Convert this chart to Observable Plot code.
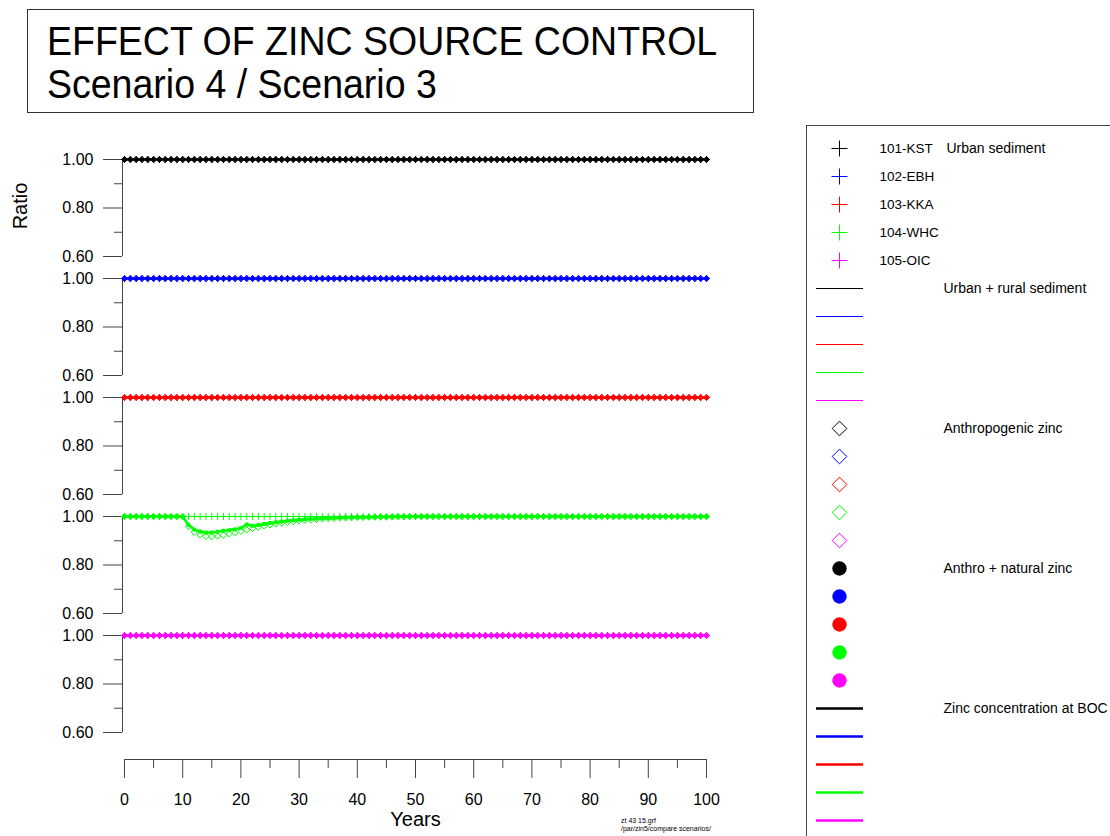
<!DOCTYPE html>
<html>
<head>
<meta charset="utf-8">
<script src="https://cdn.jsdelivr.net/npm/d3@7"></script>
<script src="https://cdn.jsdelivr.net/npm/@observablehq/plot@0.6"></script>
<style>
  html, body { margin: 0; padding: 0; background: #fff; }
  body { font-family: "Liberation Sans", Arial, Helvetica, sans-serif; color: #000; }
  #page { position: relative; width: 1110px; height: 836px; overflow: hidden; background: #fff; }
  .abs { position: absolute; }
  #titlebox { left: 27px; top: 9px; width: 725px; height: 102px; border: 1px solid #333; }
  .tline { position: absolute; left: 47px; font-size: 37.5px; line-height: 37.5px; white-space: nowrap; transform: scaleY(1.08); transform-origin: 0 31.7px; }
  #ratio { left: 20px; top: 206px; font-size: 20px; line-height: 20px; transform: translate(-50%, -50%) rotate(-90deg); white-space: nowrap; }
  #legendbox { left: 806px; top: 125px; width: 320px; height: 730px; border-left: 1px solid #444; border-top: 1px solid #444; }
  .foot { position: absolute; left: 621px; font-size: 7px; line-height: 8px; white-space: nowrap; }
</style>
</head>
<body>
<div id="page">
  <div id="titlebox" class="abs"></div>
  <div class="tline" style="top:24px">EFFECT OF ZINC SOURCE CONTROL</div>
  <div class="tline" style="top:67px">Scenario 4 / Scenario 3</div>
  <div id="ratio" class="abs">Ratio</div>
  <div id="main" class="abs" style="left:0;top:0"></div>
  <div id="xaxis" class="abs" style="left:0;top:749px"></div>
  <div id="legendbox" class="abs"><div id="legend"></div></div>
  <div class="foot" style="top:817px">zt 43 15.grf</div>
  <div class="foot" style="top:825px">/par/zin5/compare scenarios/</div>
</div>
<script>
// ---------------- DATA ----------------
const sites = ["101-KST", "102-EBH", "103-KKA", "104-WHC", "105-OIC"];
const siteColors = ["#000000", "#0000ff", "#ff0000", "#00ff00", "#ff00ff"];
const kinds = ["urbanSediment", "urbanRural", "anthro", "anthroNatural", "boc"];
const kindLabels = ["Urban sediment", "Urban + rural sediment", "Anthropogenic zinc", "Anthro + natural zinc", "Zinc concentration at BOC"];

const years = [
  0, 1, 2, 3, 4, 5, 6, 7, 8, 9,
  10, 11, 12, 13, 14, 15, 16, 17, 18, 19,
  20, 21, 22, 23, 24, 25, 26, 27, 28, 29,
  30, 31, 32, 33, 34, 35, 36, 37, 38, 39,
  40, 41, 42, 43, 44, 45, 46, 47, 48, 49,
  50, 51, 52, 53, 54, 55, 56, 57, 58, 59,
  60, 61, 62, 63, 64, 65, 66, 67, 68, 69,
  70, 71, 72, 73, 74, 75, 76, 77, 78, 79,
  80, 81, 82, 83, 84, 85, 86, 87, 88, 89,
  90, 91, 92, 93, 94, 95, 96, 97, 98, 99,
  100
];

// Ratio stays at 1.00 throughout for these series
const ratioFlat = [
  1, 1, 1, 1, 1, 1, 1, 1, 1, 1,
  1, 1, 1, 1, 1, 1, 1, 1, 1, 1,
  1, 1, 1, 1, 1, 1, 1, 1, 1, 1,
  1, 1, 1, 1, 1, 1, 1, 1, 1, 1,
  1, 1, 1, 1, 1, 1, 1, 1, 1, 1,
  1, 1, 1, 1, 1, 1, 1, 1, 1, 1,
  1, 1, 1, 1, 1, 1, 1, 1, 1, 1,
  1, 1, 1, 1, 1, 1, 1, 1, 1, 1,
  1, 1, 1, 1, 1, 1, 1, 1, 1, 1,
  1, 1, 1, 1, 1, 1, 1, 1, 1, 1,
  1
];

// 104-WHC anthropogenic zinc (open diamonds)
const whcAnthro = [
  1, 1, 1, 1, 1, 1, 1, 1, 1, 1,
  1, 0.958, 0.935, 0.924, 0.918, 0.917, 0.919, 0.923, 0.928, 0.933,
  0.939, 0.945, 0.951, 0.956, 0.961, 0.965, 0.969, 0.973, 0.976, 0.979,
  0.982, 0.984, 0.986, 0.988, 0.990, 0.991, 0.992, 0.993, 0.994, 0.995,
  0.996, 0.996, 0.997, 0.997, 0.998, 0.998, 0.998, 0.999, 0.999, 0.999,
  1, 1, 1, 1, 1, 1, 1, 1, 1, 1,
  1, 1, 1, 1, 1, 1, 1, 1, 1, 1,
  1, 1, 1, 1, 1, 1, 1, 1, 1, 1,
  1, 1, 1, 1, 1, 1, 1, 1, 1, 1,
  1, 1, 1, 1, 1, 1, 1, 1, 1, 1,
  1
];

// 104-WHC anthro + natural zinc (filled dots)
const whcAnthroNatural = [
  1, 1, 1, 1, 1, 1, 1, 1, 1, 1,
  1, 0.965, 0.946, 0.938, 0.934, 0.934, 0.937, 0.941, 0.944, 0.947,
  0.953, 0.967, 0.962, 0.965, 0.969, 0.973, 0.976, 0.979, 0.982, 0.985,
  0.987, 0.989, 0.991, 0.992, 0.993, 0.994, 0.995, 0.996, 0.997, 0.997,
  0.998, 0.998, 0.998, 0.999, 0.999, 0.999, 1, 1, 1, 1,
  1, 1, 1, 1, 1, 1, 1, 1, 1, 1,
  1, 1, 1, 1, 1, 1, 1, 1, 1, 1,
  1, 1, 1, 1, 1, 1, 1, 1, 1, 1,
  1, 1, 1, 1, 1, 1, 1, 1, 1, 1,
  1, 1, 1, 1, 1, 1, 1, 1, 1, 1,
  1
];

// 104-WHC urban + rural sediment (thin line) and concentration at BOC (thick line)
const whcUrbanRural = whcAnthroNatural;
const whcBOC = whcAnthroNatural;

const seriesFor = {
  "101-KST": [ratioFlat, ratioFlat, ratioFlat, ratioFlat, ratioFlat],
  "102-EBH": [ratioFlat, ratioFlat, ratioFlat, ratioFlat, ratioFlat],
  "103-KKA": [ratioFlat, ratioFlat, ratioFlat, ratioFlat, ratioFlat],
  "104-WHC": [ratioFlat, whcUrbanRural, whcAnthro, whcAnthroNatural, whcBOC],
  "105-OIC": [ratioFlat, ratioFlat, ratioFlat, ratioFlat, ratioFlat]
};

const xTicks = [0, 10, 20, 30, 40, 50, 60, 70, 80, 90, 100];
const xMinorTicks = [5, 15, 25, 35, 45, 55, 65, 75, 85, 95];
const yTicks = [0.6, 0.8, 1.0];
const yMinorTicks = [0.7, 0.9];

// ---------------- BUILD ----------------
const rows = [];
for (const s of sites) {
  seriesFor[s].forEach((arr, ki) => {
    years.forEach((yr, i) => rows.push({site: s, kind: kinds[ki], year: yr, value: arr[i]}));
  });
}
const byKind = k => rows.filter(d => d.kind === k);

const FONT = '"Liberation Sans", Arial, Helvetica, sans-serif';
const AXIS = "#444";
const colorScale = {domain: sites, range: siteColors};

const xCommon = {
  width: 800,
  marginLeft: 122, marginRight: 94, insetLeft: 2
};

const main = Plot.plot({
  ...xCommon,
  height: 836,
  marginTop: 159,
  marginBottom: 104,
  style: {fontFamily: FONT, fontSize: "16px", background: "transparent", color: "#000", overflow: "visible"},
  x: {domain: [0, 100], axis: null},
  y: {domain: [0.6, 1.0], axis: null},
  fy: {domain: sites, paddingInner: 0.185, paddingOuter: 0, axis: null, label: null},
  color: colorScale,
  marks: [
    Plot.ruleX([0], {y1: 0.6, y2: 1.0, dx: -2, stroke: AXIS, strokeWidth: 1}),
    Plot.axisY({ticks: yTicks, tickFormat: d3.format(".2f"), tickSize: 19, tickPadding: 10, fontSize: 16, label: null, stroke: AXIS, fill: "#000"}),
    Plot.axisY({ticks: yMinorTicks, tickFormat: () => "", tickSize: 8, label: null, stroke: AXIS}),
    Plot.line(byKind("urbanRural"), {x: "year", y: "value", fy: "site", stroke: "site", strokeWidth: 1}),
    Plot.line(byKind("boc"), {x: "year", y: "value", fy: "site", stroke: "site", strokeWidth: 2.5}),
    Plot.dot(byKind("anthro"), {x: "year", y: "value", fy: "site", stroke: "site", symbol: "diamond2", r: 2.8, strokeWidth: 1, fill: "none"}),
    Plot.dot(byKind("anthroNatural"), {x: "year", y: "value", fy: "site", fill: "site", symbol: "circle", r: 2.2, stroke: "none"}),
    Plot.dot(byKind("urbanSediment"), {x: "year", y: "value", fy: "site", stroke: "site", symbol: "plus", r: 2.4, strokeWidth: 1})
  ]
});
document.getElementById("main").appendChild(main);

const xaxis = Plot.plot({
  ...xCommon,
  height: 87,
  marginTop: 0,
  marginBottom: 77,
  style: {fontFamily: FONT, fontSize: "16px", background: "transparent", color: "#000", overflow: "visible"},
  x: {domain: [0, 100], axis: null},
  y: {domain: [0, 1], axis: null},
  marks: [
    Plot.ruleY([0], {x1: 0, x2: 100, stroke: AXIS}),
    Plot.axisX({ticks: xTicks, tickFormat: d3.format("d"), tickSize: 19, tickPadding: 15, fontSize: 16, label: null, stroke: AXIS, fill: "#000"}),
    Plot.axisX({ticks: xMinorTicks, tickFormat: () => "", tickSize: 9, label: null, stroke: AXIS}),
    Plot.text(["Years"], {x: 50, frameAnchor: "bottom", dy: 66, fontSize: 20, fill: "#000"})
  ]
});
document.getElementById("xaxis").appendChild(xaxis);

// ---------------- LEGEND ----------------
const legendRows = [];
kinds.forEach((k, ki) => sites.forEach((s, si) => legendRows.push({row: ki * 5 + si, kind: k, site: s})));
const lk = k => legendRows.filter(d => d.kind === k);
const groupLabels = kinds.map((k, ki) => ({row: ki * 5, text: kindLabels[ki]}));
const siteLabels = sites.map((s, si) => ({row: si, text: s}));

const legend = Plot.plot({
  width: 304,
  height: 710,
  margin: 0,
  style: {fontFamily: FONT, fontSize: "14px", background: "transparent", color: "#000", overflow: "visible"},
  x: {type: "identity", axis: null},
  y: {type: "point", domain: legendRows.map(d => d.row), range: [17, 698], padding: 0, axis: null},
  color: colorScale,
  marks: [
    Plot.dot(lk("urbanSediment"), {x: 32, y: "row", stroke: "site", symbol: "plus", r: 5.2, strokeWidth: 1}),
    Plot.ruleY(lk("urbanRural"), {y: "row", x1: 9, x2: 56, stroke: "site", strokeWidth: 1}),
    Plot.dot(lk("anthro"), {x: 32, y: "row", stroke: "site", symbol: "diamond2", r: 6.6, strokeWidth: 1, fill: "none"}),
    Plot.dot(lk("anthroNatural"), {x: 32, y: "row", fill: "site", symbol: "circle", r: 7.2, stroke: "none"}),
    Plot.ruleY(lk("boc"), {y: "row", x1: 9, x2: 56, stroke: "site", strokeWidth: 2.5}),
    Plot.text(siteLabels, {x: 72, y: "row", text: "text", textAnchor: "start", fontSize: 13.5, fill: "#000"}),
    Plot.text(groupLabels.slice(0, 1), {x: 139, y: "row", text: "text", textAnchor: "start", fontSize: 14, fill: "#000"}),
    Plot.text(groupLabels.slice(1), {x: 136, y: "row", text: "text", textAnchor: "start", fontSize: 14, fill: "#000"})
  ]
});
document.getElementById("legend").appendChild(legend);
</script>
</body>
</html>
